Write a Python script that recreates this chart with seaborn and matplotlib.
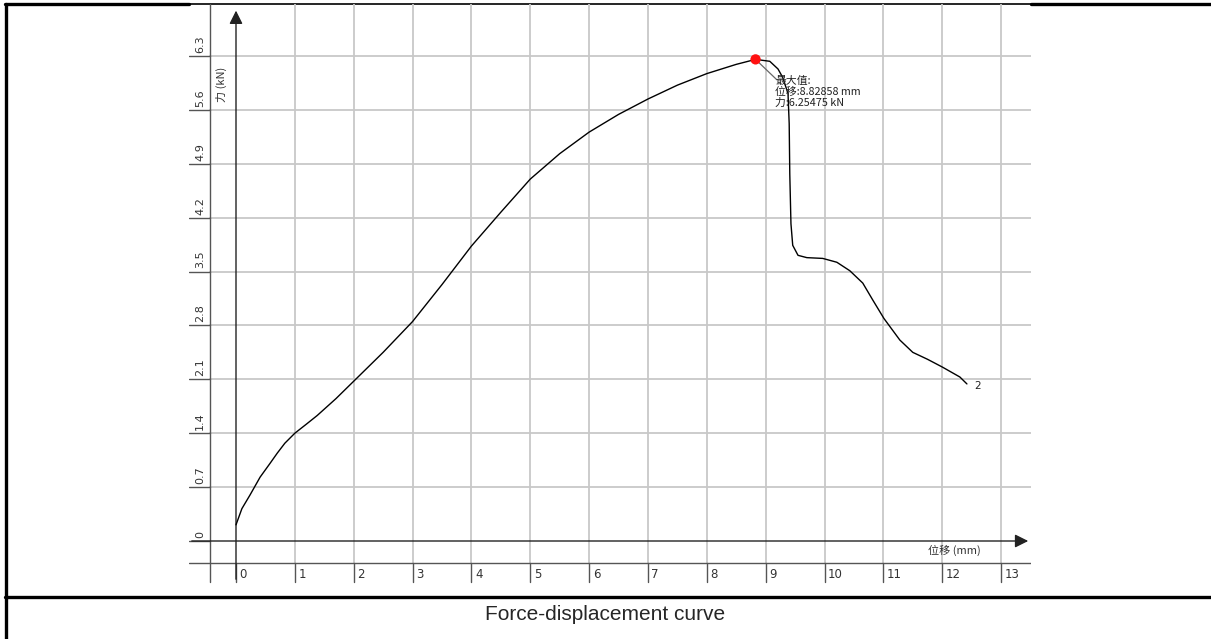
import matplotlib
matplotlib.use('Agg')
import matplotlib.pyplot as plt
import seaborn as sns
import pandas as pd

# displacement (mm) / force (kN)
disp = [0, 0.1, 0.24, 0.41, 0.58, 0.7, 0.83, 1.0, 1.2, 1.38, 1.7, 2.02, 2.5, 3.0, 3.5,
        4.0, 4.5, 5.0, 5.5, 6.0, 6.5, 7.0, 7.5, 8.0, 8.5, 8.82858, 9.07, 9.21, 9.29,
        9.38, 9.40, 9.41, 9.43, 9.46, 9.55, 9.70, 9.97, 10.21, 10.43, 10.65, 10.82,
        11.01, 11.28, 11.50, 11.75, 12.0, 12.30, 12.42]
force = [0.21, 0.42, 0.60, 0.83, 1.01, 1.14, 1.27, 1.40, 1.52, 1.63, 1.85, 2.09, 2.45,
         2.85, 3.33, 3.83, 4.27, 4.70, 5.03, 5.31, 5.54, 5.74, 5.92, 6.07, 6.19, 6.25475,
         6.23, 6.13, 6.02, 5.81, 5.42, 4.77, 4.12, 3.84, 3.71, 3.68, 3.67, 3.62, 3.51,
         3.35, 3.13, 2.89, 2.61, 2.45, 2.36, 2.26, 2.13, 2.04]
peak_x = [8.82858]
peak_y = [6.25475]
x_ticks = list(range(14))
y_ticks = [0, 0.7, 1.4, 2.1, 2.8, 3.5, 4.2, 4.9, 5.6, 6.3]
y_labels = ['0', '0.7', '1.4', '2.1', '2.8', '3.5', '4.2', '4.9', '5.6', '6.3']
caption = 'Force-displacement curve'

df = pd.DataFrame({'disp': disp, 'force': force})

sns.set_style('white')
plt.rcParams['font.family'] = ['Noto Sans CJK SC', 'DejaVu Sans']

fig = plt.figure(figsize=(12.11, 6.39), dpi=100)

# background frame in pixel coords
bg = fig.add_axes([0, 0, 1, 1])
bg.set_xlim(0, 1211)
bg.set_ylim(639, 0)
bg.axis('off')
bg.plot([6, 6], [4, 639], color='black', lw=2.4)
bg.plot([5, 189], [4, 4], color='black', lw=2.4)
bg.plot([189, 1031], [4, 4], color='black', lw=1.2)
bg.plot([1031, 1211], [4, 4], color='black', lw=2.4)
bg.plot([5, 1211], [597, 597], color='black', lw=2.4)
bg.text(605, 614, caption, ha='center', va='center', fontsize=15,
        family=['Liberation Sans', 'DejaVu Sans'])

# chart area
W, H = 1211, 639
ax = fig.add_axes([189 / W, (H - 595) / H, (1031 - 189) / W, (595 - 4) / H])
ax.set_xlim((189 - 236) / 58.85, (1031 - 236) / 58.85)
ax.set_ylim((541 - 595) / 77.0, (541 - 4) / 77.0)
ax.axis('off')
x0, x1 = ax.get_xlim()
y0, y1 = ax.get_ylim()
col = (210 - 236) / 58.85
base = (541 - 563) / 77.0
tick_bot = (541 - 582) / 77.0

grid_c = '#c8c8c8'
dark = '#555555'
for xv in x_ticks[1:]:
    ax.plot([xv, xv], [base, y1], color=grid_c, lw=1.3, zorder=1)
for yv in y_ticks[1:]:
    ax.plot([col, x1], [yv, yv], color=grid_c, lw=1.3, zorder=1)
for yv in y_ticks:
    ax.plot([x0, col], [yv, yv], color=dark, lw=1.0, zorder=2)
for xv in x_ticks:
    ax.plot([xv, xv], [base, tick_bot], color=dark, lw=1.0, zorder=2)
    ax.text(xv + 0.06, (base + tick_bot) / 2 - 0.03, str(xv), ha='left', va='center',
            fontsize=8.5, color='#333333', family='DejaVu Sans')
ax.plot([col, col], [tick_bot, y1], color=dark, lw=1.0, zorder=2)
ax.plot([x0, x1], [base, base], color=dark, lw=1.0, zorder=2)
for yv, lab in zip(y_ticks, y_labels):
    ax.text(-0.61, yv + 0.04, lab, rotation=90, ha='center', va='bottom',
            fontsize=8, color='#333333', family='DejaVu Sans')

# axes with arrows
ax.annotate('', xy=(0, y1 - 0.05), xytext=(0, tick_bot),
            arrowprops=dict(arrowstyle='-|>', color='#222222', lw=1.0, mutation_scale=20),
            zorder=3)
ax.annotate('', xy=(x1, 0), xytext=(x0, 0),
            arrowprops=dict(arrowstyle='-|>', color='#222222', lw=1.0, mutation_scale=20),
            zorder=3)
ax.text(12.2, -0.12, '位移 (mm)', ha='center', va='center', fontsize=8, color='#333333')
ax.text(-0.24, 5.93, '力 (kN)', rotation=90, ha='center', va='center', fontsize=8,
        color='#333333')

# curve
sns.lineplot(data=df, x='disp', y='force', sort=False, color='black', lw=1.0,
             ax=ax, zorder=4)
sns.scatterplot(x=peak_x, y=peak_y, color='#ff1010', s=55, edgecolor='none', ax=ax,
                zorder=5)
ax.plot([peak_x[0], 9.19], [peak_y[0], 5.99], color='#666666', lw=0.9, zorder=4)
ax.text(9.16, 6.04, '最大值:\n位移:8.82858 mm\n力:6.25475 kN', ha='left', va='top',
        fontsize=7.8, linespacing=1.12, color='#222222', zorder=6)
ax.text(disp[-1] + 0.13, force[-1] - 0.03, '2', ha='left', va='center', fontsize=7.5,
        color='#222222', family='DejaVu Sans')
ax.set_xlim(x0, x1)
ax.set_ylim(y0, y1)

fig.savefig('out.png', dpi=100)
